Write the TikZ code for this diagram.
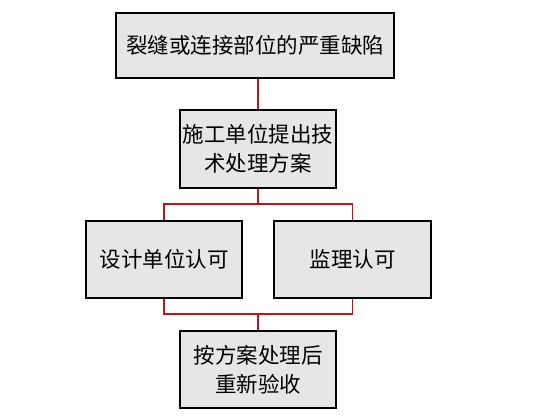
\documentclass[tikz,border=0pt]{standalone}
\usepackage{fontspec}
\newfontfamily\cjk{Noto Sans CJK SC}
\definecolor{boxfill}{HTML}{E6E6E6}
\definecolor{linered}{HTML}{C0141C}
\begin{document}
\begin{tikzpicture}[x=1pt,y=-1pt,
  box/.style={draw=black,line width=1.8pt,fill=boxfill,inner sep=0pt,align=center,font=\cjk\fontsize{21.5}{29}\selectfont},
  conn/.style={draw=linered,line width=1.6pt}]
\useasboundingbox (0,0) rectangle (554,415);
\node[box,minimum width=278pt,minimum height=65pt] (a) at (255,45.5) {裂缝或连接部位的严重缺陷};
\node[box,minimum width=156pt,minimum height=78pt] (b) at (258,149) {施工单位提出技\\术处理方案};
\node[box,minimum width=156pt,minimum height=77pt] (c) at (164,259.5) {设计单位认可};
\node[box,minimum width=157pt,minimum height=77pt] (d) at (352.5,259.5) {监理认可};
\node[box,minimum width=156pt,minimum height=77pt] (e) at (258,369.5) {按方案处理后\\重新验收};
\coordinate (s) at (258,204);
\coordinate (m) at (258,314);
\draw[conn] (a.south -| s) -- (b.north -| s);
\draw[conn] (b.south -| s) -- (s);
\draw[conn] (c.north) |- (s) -| (d.north);
\draw[conn] (c.south) |- (m) -| (d.south);
\draw[conn] (m) -- (e.north -| m);
\end{tikzpicture}
\end{document}
